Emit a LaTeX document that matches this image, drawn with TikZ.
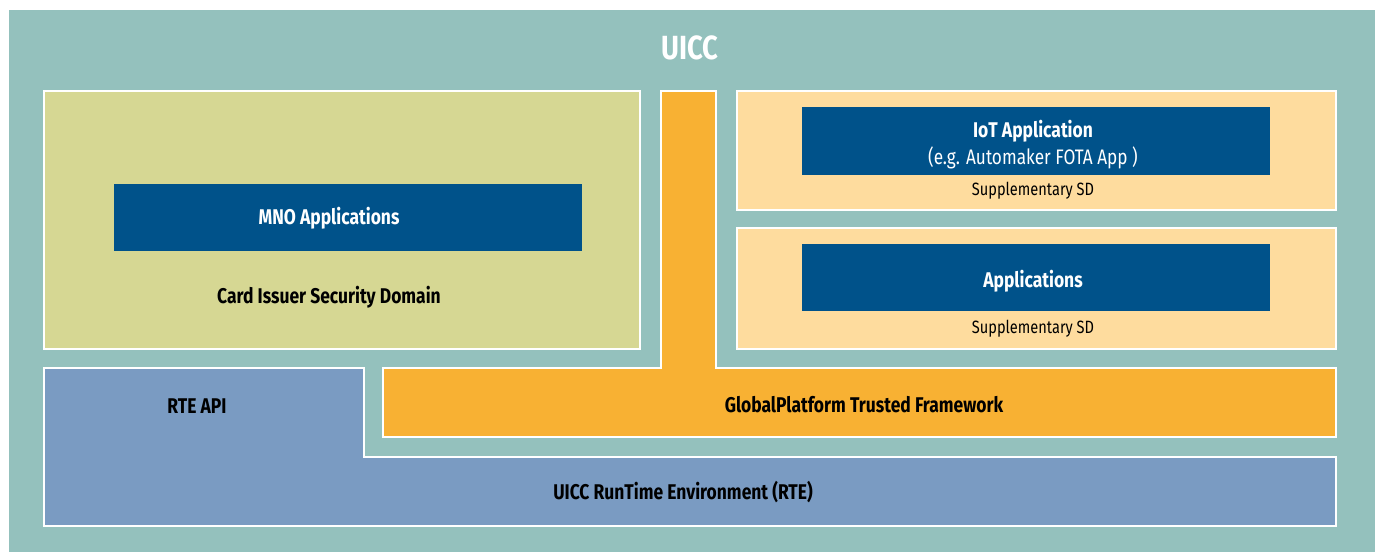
\documentclass[tikz,border=0pt]{standalone}
\usepackage{fontspec}
\setmainfont{Fira Sans}[FakeStretch=0.82]
\definecolor{uiccteal}{HTML}{94C1BD}
\definecolor{cisdolive}{HTML}{D6D793}
\definecolor{gporange}{HTML}{F8B133}
\definecolor{ssdorange}{HTML}{FEDC9E}
\definecolor{appblue}{HTML}{00528A}
\definecolor{rteblue}{HTML}{7A9BC2}
\tikzset{
  panel/.style={draw=white, line width=1.2pt},
  boldlabel/.style={font=\bfseries\fontsize{21.3}{24}\selectfont, text=black, inner sep=0pt},
  whitelabel/.style={font=\bfseries\fontsize{21.3}{24}\selectfont, text=white, inner sep=0pt, align=center},
  smalllabel/.style={font=\fontsize{17.8}{20}\selectfont, text=black, inner sep=0pt},
}
\begin{document}
\begin{tikzpicture}[x=1pt,y=-1pt]
\useasboundingbox (0,0) rectangle (1375,552);
% outer UICC
\fill[uiccteal] (9,10) rectangle (1375,552);
\node[font=\bfseries\fontsize{33.5}{38}\selectfont, text=white, inner sep=0pt] (uicc) at (690,48) {UICC};
% Card issuer security domain
\fill[cisdolive] (44,91) rectangle (640,349);
\draw[panel] (44,91) rectangle (640,349);
\fill[appblue] (114,184) rectangle (582,251);
\node[whitelabel] (mno) at (329,218) {MNO Applications};
\node[boldlabel] (cisd) at (329,297) {Card Issuer Security Domain};
% Supplementary SD 1
\fill[ssdorange] (737,91) rectangle (1336,210);
\draw[panel] (737,91) rectangle (1336,210);
\fill[appblue] (802,107) rectangle (1270,175);
\node[whitelabel] (iot) at (1033,131) {IoT Application};
\node[font=\fontsize{21}{24}\selectfont, text=white, inner sep=0pt] (iotsub) at (1033,158) {(e.g. Automaker FOTA App )};
\node[smalllabel] (ssd1) at (1033,191) {Supplementary SD};
% Supplementary SD 2
\fill[ssdorange] (737,228) rectangle (1336,349);
\draw[panel] (737,228) rectangle (1336,349);
\fill[appblue] (802,244) rectangle (1270,311);
\node[whitelabel] (apps) at (1033,281) {Applications};
\node[smalllabel] (ssd2) at (1033,329) {Supplementary SD};
% GlobalPlatform Trusted Framework (T shape)
\draw[panel, fill=gporange] (661,91) -- (716,91) -- (716,368) -- (1336,368) -- (1336,437) -- (383,437) -- (383,368) -- (661,368) -- cycle;
\node[boldlabel] (gp) at (864,405) {GlobalPlatform Trusted Framework};
% RTE (L shape)
\draw[panel, fill=rteblue] (44,368) -- (364,368) -- (364,457) -- (1336,457) -- (1336,526) -- (44,526) -- cycle;
\node[boldlabel] (rteapi) at (197,406) {RTE API};
\node[boldlabel] (rte) at (683,492) {UICC RunTime Environment (RTE)};
\end{tikzpicture}
\end{document}
